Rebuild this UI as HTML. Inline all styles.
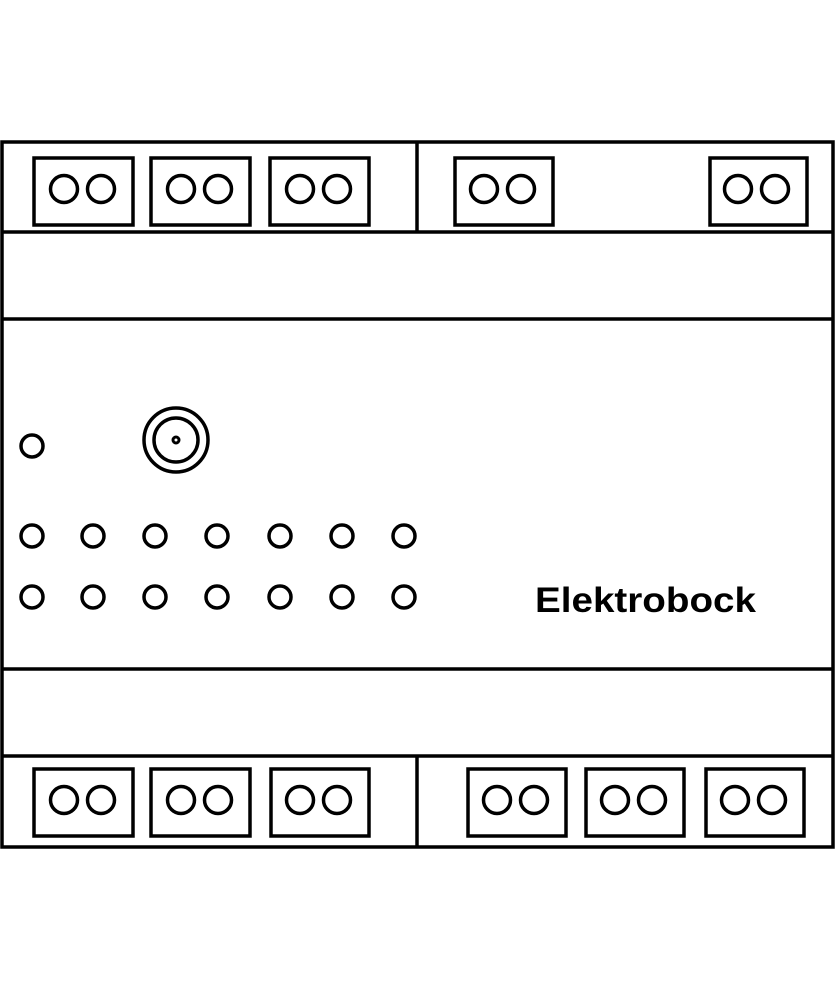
<!DOCTYPE html>
<html><head><meta charset="utf-8"><style>html,body{margin:0;padding:0;background:#fff}svg{display:block}</style></head>
<body>
<svg width="835" height="989" viewBox="0 0 835 989" xmlns="http://www.w3.org/2000/svg" fill="none" stroke="#000">
<rect x="2" y="142" width="831" height="705" stroke-width="3.5"/>
<g stroke-width="3.5">
<line x1="2" y1="232" x2="833" y2="232"/>
<line x1="2" y1="319" x2="833" y2="319"/>
<line x1="2" y1="669" x2="833" y2="669"/>
<line x1="2" y1="756" x2="833" y2="756"/>
<line x1="417" y1="142" x2="417" y2="232"/>
<line x1="417" y1="756" x2="417" y2="847"/>
</g>
<g stroke-width="3.5">
<rect x="34" y="158" width="99" height="67"/><circle cx="64" cy="189" r="13.5"/><circle cx="101" cy="189" r="13.5"/>
<rect x="151" y="158" width="99" height="67"/><circle cx="181" cy="189" r="13.5"/><circle cx="218" cy="189" r="13.5"/>
<rect x="270" y="158" width="99" height="67"/><circle cx="300" cy="189" r="13.5"/><circle cx="337" cy="189" r="13.5"/>
<rect x="455" y="158" width="98" height="67"/><circle cx="484" cy="189" r="13.5"/><circle cx="521" cy="189" r="13.5"/>
<rect x="710" y="158" width="97" height="67"/><circle cx="738" cy="189" r="13.5"/><circle cx="775" cy="189" r="13.5"/>

<rect x="34" y="769" width="99" height="67"/><circle cx="64" cy="800" r="13.5"/><circle cx="101" cy="800" r="13.5"/>
<rect x="151" y="769" width="99" height="67"/><circle cx="181" cy="800" r="13.5"/><circle cx="218" cy="800" r="13.5"/>
<rect x="271" y="769" width="98" height="67"/><circle cx="300" cy="800" r="13.5"/><circle cx="337" cy="800" r="13.5"/>
<rect x="468" y="769" width="98" height="67"/><circle cx="497" cy="800" r="13.5"/><circle cx="534" cy="800" r="13.5"/>
<rect x="586" y="769" width="98" height="67"/><circle cx="615" cy="800" r="13.5"/><circle cx="652" cy="800" r="13.5"/>
<rect x="706" y="769" width="98" height="67"/><circle cx="735" cy="800" r="13.5"/><circle cx="772" cy="800" r="13.5"/>
</g>
<g stroke-width="3.5">
<circle cx="32" cy="446" r="11"/>
<circle cx="176" cy="440" r="32"/>
<circle cx="176" cy="440" r="22"/>
<circle cx="176" cy="440" r="3" stroke-width="3"/>
<circle cx="32" cy="536" r="11"/><circle cx="93" cy="536" r="11"/><circle cx="155" cy="536" r="11"/><circle cx="217" cy="536" r="11"/><circle cx="280" cy="536" r="11"/><circle cx="342" cy="536" r="11"/><circle cx="404" cy="536" r="11"/>
<circle cx="32" cy="597" r="11"/><circle cx="93" cy="597" r="11"/><circle cx="155" cy="597" r="11"/><circle cx="217" cy="597" r="11"/><circle cx="280" cy="597" r="11"/><circle cx="342" cy="597" r="11"/><circle cx="404" cy="597" r="11"/>
</g>
<text x="535" y="612" font-family="Liberation Sans, Arial, sans-serif" font-weight="bold" font-size="35" fill="#000" stroke="none" textLength="221" lengthAdjust="spacingAndGlyphs">Elektrobock</text>
</svg>
</body></html>
